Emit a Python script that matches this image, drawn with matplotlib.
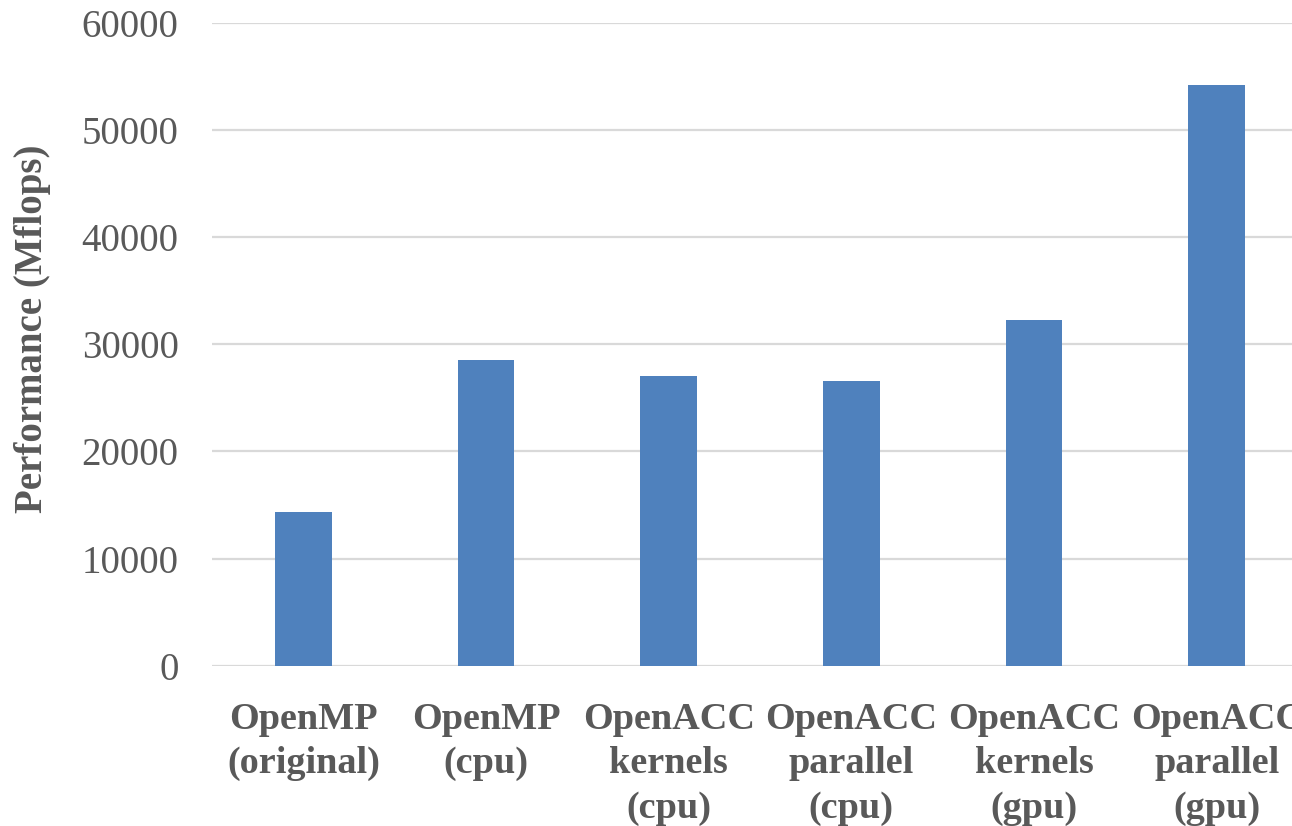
import matplotlib
matplotlib.use("Agg")
import matplotlib.pyplot as plt
import numpy as np

categories = ["OpenMP\n(original)", "OpenMP\n(cpu)", "OpenACC\nkernels\n(cpu)",
              "OpenACC\nparallel\n(cpu)", "OpenACC\nkernels\n(gpu)", "OpenACC\nparallel\n(gpu)"]
performance = [14340, 28520, 27030, 26530, 32250, 54180]
yticks = [0, 10000, 20000, 30000, 40000, 50000, 60000]

plt.rcParams['font.family'] = ['Liberation Serif', 'DejaVu Serif']
gray = '#595959'

fig = plt.figure(figsize=(12.92, 8.26), dpi=100)
ax = fig.add_axes([212/1292, 1-665.7/826, (1308-212)/1292, (665.7-22.7)/826])

x = np.arange(len(categories))
ax.bar(x, performance, width=0.31, color='#4F81BD', zorder=3)

ax.set_xlim(-0.5, len(categories)-0.5)
ax.set_ylim(0, 60000)
ax.set_yticks(yticks)
ax.set_yticklabels([str(v) for v in yticks], fontsize=28, color=gray)
ax.set_xticks(x)
ax.set_xticklabels(categories, fontsize=27.5, fontweight='bold', color=gray, linespacing=1.35)
ax.tick_params(axis='both', length=0)
ax.tick_params(axis='y', pad=24)
ax.tick_params(axis='x', pad=26)

ax.grid(axis='y', color='#D9D9D9', linewidth=1.6, zorder=0)
ax.set_axisbelow(True)
for s in ax.spines.values():
    s.set_visible(False)

fig.text(33/1292, 1-329/826, "Performance (Mflops)", rotation=90, ha='center', va='center',
         fontsize=28, fontweight='bold', color=gray)

fig.savefig("out.png", dpi=100)
